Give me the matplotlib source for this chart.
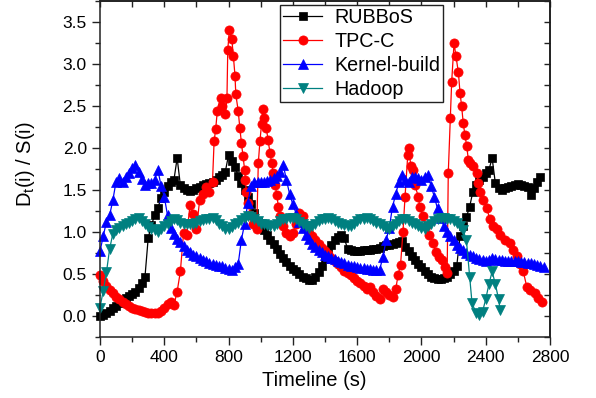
import numpy as np
import matplotlib
matplotlib.use('Agg')
import matplotlib.pyplot as plt
from matplotlib.ticker import MultipleLocator

plt.rcParams['font.family'] = ['Liberation Sans', 'DejaVu Sans']
plt.rcParams['mathtext.default'] = 'regular'

# ---------------- data ----------------
labels = ['RUBBoS', 'TPC-C', 'Kernel-build', 'Hadoop']

# RUBBoS, sampled every 20 s from t = 0
rubbos_v = [
    0.00, 0.01, 0.03, 0.06, 0.09, 0.12, 0.15, 0.18, 0.21, 0.24,
    0.26, 0.29, 0.33, 0.39, 0.47, 0.93, 1.08, 1.20, 1.29, 1.40,
    1.48, 1.55, 1.60, 1.62, 1.88, 1.56, 1.52, 1.50, 1.49, 1.50,
    1.52, 1.54, 1.56, 1.57, 1.58, 1.60, 1.62, 1.65, 1.68, 1.72,
    1.92, 1.85, 1.77, 1.67, 1.58, 1.50, 1.42, 1.33, 1.23, 1.13,
    1.06, 1.02, 0.96, 0.91, 0.86, 0.80, 0.74, 0.69, 0.64, 0.60,
    0.56, 0.53, 0.50, 0.47, 0.45, 0.43, 0.43, 0.46, 0.52, 0.60,
    0.68, 0.76, 0.84, 0.90, 0.94, 0.96, 0.93, 0.80, 0.78, 0.77,
    0.77, 0.77, 0.78, 0.78, 0.79, 0.80, 0.80, 0.81, 0.83, 0.84,
    0.85, 0.86, 0.87, 0.88, 0.89, 0.82, 0.77, 0.72, 0.67, 0.62,
    0.58, 0.54, 0.50, 0.47, 0.45, 0.44, 0.44, 0.45, 0.47, 0.50,
    0.53, 0.60, 0.95, 1.07, 1.18, 1.30, 1.48, 1.56, 1.62, 1.66,
    1.70, 1.74, 1.88, 1.58, 1.52, 1.50, 1.52, 1.54, 1.55, 1.56,
    1.57, 1.56, 1.55, 1.54, 1.44, 1.52, 1.60, 1.65,
]
rubbos_t = np.arange(len(rubbos_v)) * 20

# TPC-C (irregular sampling around the peaks)
tpcc_t = [
    0, 20, 40, 60, 80, 100, 120, 140, 160, 180,
    200, 220, 240, 260, 280, 300, 320, 340, 360, 380,
    400, 420, 440, 460, 480, 500, 520, 540, 560, 580,
    600, 620, 640, 660, 680, 700, 710, 720, 730, 750,
    760, 780, 790, 795, 805, 820, 830, 840, 845, 860,
    870, 880, 890, 900, 905, 910, 920, 935, 955, 975,
    985, 995, 1005, 1012, 1020, 1035, 1045, 1058, 1068, 1078,
    1090, 1100, 1110, 1120, 1140, 1160, 1180, 1200, 1220, 1240,
    1260, 1280, 1300, 1320, 1340, 1360, 1380, 1400, 1420, 1440,
    1460, 1480, 1500, 1520, 1540, 1560, 1580, 1600, 1620, 1640,
    1660, 1680, 1700, 1720, 1740, 1760, 1780, 1800, 1820, 1840,
    1855, 1870, 1885, 1898, 1915, 1920, 1935, 1950, 1960, 1980,
    1990, 2010, 2030, 2050, 2070, 2090, 2110, 2125, 2145, 2160,
    2167, 2180, 2188, 2203, 2215, 2230, 2240, 2250, 2260, 2270,
    2282, 2292, 2302, 2323, 2344, 2354, 2364, 2385, 2406, 2427,
    2447, 2468, 2489, 2520, 2551, 2572, 2593, 2615, 2634, 2655,
    2675, 2706, 2727, 2748,
]
tpcc_v = [
    0.49, 0.42, 0.36, 0.31, 0.27, 0.23, 0.20, 0.17, 0.14, 0.12,
    0.10, 0.08, 0.07, 0.06, 0.05, 0.04, 0.03, 0.03, 0.04, 0.06,
    0.09, 0.14, 0.17, 0.13, 0.29, 0.53, 0.99, 0.97, 1.32, 1.22,
    1.03, 1.38, 1.45, 1.54, 1.48, 1.60, 2.08, 2.23, 2.44, 2.60,
    2.50, 2.40, 2.60, 3.17, 3.40, 3.30, 3.09, 2.86, 2.64, 2.44,
    2.24, 2.06, 1.90, 1.74, 1.62, 1.48, 1.35, 1.20, 1.09, 1.03,
    1.82, 2.08, 2.28, 2.46, 2.36, 2.24, 2.10, 1.94, 1.82, 1.70,
    1.56, 1.44, 1.30, 1.19, 1.07, 0.99, 0.95, 0.99, 1.10, 1.23,
    1.19, 1.07, 0.99, 0.95, 0.91, 0.86, 0.81, 0.77, 0.74, 0.69,
    0.66, 0.62, 0.58, 0.54, 0.51, 0.49, 0.45, 0.42, 0.39, 0.36,
    0.32, 0.34, 0.28, 0.24, 0.20, 0.32, 0.28, 0.25, 0.23, 0.32,
    0.49, 0.61, 1.00, 1.42, 1.92, 2.00, 1.78, 1.74, 1.56, 1.42,
    1.30, 1.19, 1.07, 0.97, 0.87, 0.76, 0.70, 0.67, 0.58, 0.51,
    1.70, 2.36, 2.78, 3.25, 3.09, 2.90, 2.66, 2.50, 2.30, 2.16,
    2.02, 1.86, 1.82, 1.78, 1.70, 1.58, 1.48, 1.38, 1.28, 1.15,
    1.07, 1.03, 0.97, 0.91, 0.87, 0.79, 0.71, 0.62, 0.53, 0.35,
    0.31, 0.27, 0.21, 0.17,
]

# Kernel-build, sampled every 20 s from t = 0
kernel_v = [
    0.77, 0.95, 1.12, 1.20, 1.38, 1.60, 1.64, 1.60, 1.65, 1.70,
    1.76, 1.80, 1.72, 1.63, 1.56, 1.58, 1.58, 1.62, 1.74, 1.55,
    1.42, 1.20, 1.05, 0.98, 0.92, 0.88, 0.83, 0.79, 0.76, 0.73,
    0.71, 0.69, 0.67, 0.65, 0.63, 0.62, 0.61, 0.60, 0.59, 0.57,
    0.56, 0.55, 0.58, 0.62, 0.91, 1.10, 1.35, 1.55, 1.60, 1.60,
    1.60, 1.60, 1.61, 1.62, 1.64, 1.67, 1.72, 1.80, 1.62, 1.45,
    1.33, 1.22, 1.12, 1.05, 0.97, 0.92, 0.86, 0.82, 0.78, 0.76,
    0.73, 0.71, 0.69, 0.68, 0.66, 0.64, 0.63, 0.61, 0.60, 0.59,
    0.58, 0.57, 0.57, 0.56, 0.56, 0.55, 0.55, 0.55, 0.70, 0.90,
    1.05, 1.30, 1.45, 1.60, 1.68, 1.62, 1.60, 1.65, 1.66, 1.64,
    1.62, 1.66, 1.68, 1.55, 1.42, 1.28, 1.17, 1.07, 1.00, 0.95,
    0.90, 0.85, 0.81, 0.78, 0.75, 0.73, 0.71, 0.69, 0.68, 0.67,
    0.66, 0.67, 0.69, 0.68, 0.67, 0.67, 0.66, 0.66, 0.65, 0.65,
    0.65, 0.64, 0.64, 0.63, 0.63, 0.62, 0.61, 0.59, 0.58,
]
kernel_t = np.arange(len(kernel_v)) * 20

# Hadoop
hadoop_t = [
    0, 20, 40, 60, 80, 100, 120, 140, 160, 180,
    200, 220, 240, 260, 280, 300, 320, 340, 360, 380,
    400, 420, 440, 460, 480, 500, 520, 540, 560, 580,
    600, 620, 640, 660, 680, 700, 720, 740, 760, 780,
    800, 820, 840, 860, 880, 900, 920, 940, 960, 980,
    1000, 1020, 1040, 1060, 1080, 1100, 1120, 1140, 1160, 1180,
    1200, 1220, 1240, 1260, 1280, 1300, 1320, 1340, 1360, 1380,
    1400, 1420, 1440, 1460, 1480, 1500, 1520, 1540, 1560, 1580,
    1600, 1620, 1640, 1660, 1680, 1700, 1720, 1740, 1760, 1780,
    1800, 1820, 1840, 1860, 1880, 1900, 1920, 1940, 1960, 1980,
    2000, 2020, 2040, 2060, 2080, 2100, 2120, 2140, 2160, 2180,
    2200, 2220, 2240, 2260, 2280, 2300, 2315, 2340, 2360, 2380,
    2400, 2420, 2440, 2460, 2480, 2490,
]
hadoop_v = [
    0.10, 0.30, 0.52, 0.80, 0.98, 1.02, 1.05, 1.07, 1.09, 1.11,
    1.13, 1.15, 1.17, 1.13, 1.09, 1.06, 1.04, 1.02, 1.00, 1.03,
    1.07, 1.10, 1.13, 1.15, 1.14, 1.11, 1.10, 1.09, 1.09, 1.09,
    1.11, 1.13, 1.14, 1.15, 1.16, 1.17, 1.14, 1.10, 1.07, 1.04,
    1.03, 1.06, 1.09, 1.11, 1.14, 1.17, 1.19, 1.18, 1.16, 1.13,
    1.10, 1.09, 1.08, 1.07, 1.07, 1.10, 1.13, 1.15, 1.16, 1.17,
    1.17, 1.15, 1.12, 1.10, 1.07, 1.05, 1.07, 1.10, 1.13, 1.15,
    1.16, 1.17, 1.16, 1.13, 1.11, 1.09, 1.08, 1.07, 1.07, 1.10,
    1.13, 1.15, 1.16, 1.17, 1.15, 1.13, 1.11, 1.09, 1.07, 1.05,
    1.04, 1.07, 1.10, 1.13, 1.15, 1.15, 1.13, 1.11, 1.09, 1.07,
    1.05, 1.04, 1.07, 1.10, 1.13, 1.15, 1.17, 1.17, 1.16, 1.15,
    1.13, 1.11, 1.07, 1.02, 0.90, 0.47, 0.15, 0.04, 0.01, 0.05,
    0.20, 0.38, 0.53, 0.38, 0.20, 0.07,
]

x_ticks = [0, 400, 800, 1200, 1600, 2000, 2400, 2800]
y_ticks = [0.0, 0.5, 1.0, 1.5, 2.0, 2.5, 3.0, 3.5]

# ---------------- figure ----------------
fig = plt.figure(figsize=(5.96, 3.98), dpi=100)
ax = fig.add_axes([100 / 596, 1 - 337 / 398, 450 / 596, 336 / 398])

series = [
    (rubbos_t, rubbos_v, 'black', 's', 6.2),
    (tpcc_t, tpcc_v, '#ff0000', 'o', 6.6),
    (kernel_t, kernel_v, '#0000ff', '^', 7.0),
    (hadoop_t, hadoop_v, '#008080', 'v', 7.0),
]
for (t, v, c, m, ms), lab in zip(series, labels):
    ax.plot(t, v, color=c, marker=m, markersize=ms, linewidth=0.9,
            markeredgewidth=0.5, label=lab, clip_on=False)

ax.set_xlim(0, 2800)
ax.set_ylim(-0.25, 3.75)
ax.set_xticks(x_ticks)
ax.set_xticklabels([str(v) for v in x_ticks])
ax.set_yticks(y_ticks)
ax.set_yticklabels([f'{v:.1f}' for v in y_ticks])
ax.xaxis.set_minor_locator(MultipleLocator(200))
ax.yaxis.set_minor_locator(MultipleLocator(0.25))

ax.tick_params(which='major', direction='out', length=6, width=1,
               labelsize=12.5, colors='#222222', labelcolor='black')
ax.tick_params(which='minor', direction='out', length=3.5, width=1,
               colors='#222222')
for s in ax.spines.values():
    s.set_linewidth(1.1)
    s.set_color('#222222')

secx = ax.secondary_xaxis('top')
secx.set_xticks(x_ticks)
secx.xaxis.set_minor_locator(MultipleLocator(200))
secx.tick_params(axis='x', which='both', direction='in', length=4, width=1,
                 labeltop=False, labelbottom=False, colors='#222222')
secx.spines['top'].set_linewidth(1.1)
secy = ax.secondary_yaxis('right')
secy.set_yticks(y_ticks)
secy.yaxis.set_minor_locator(MultipleLocator(0.25))
secy.tick_params(axis='y', which='both', direction='in', length=4, width=1,
                 labelright=False, labelleft=False, colors='#222222')
secy.spines['right'].set_linewidth(1.1)

ax.set_xlabel('Timeline (s)', fontsize=14.5)
ax.xaxis.set_label_coords((314 - 100) / 450, (337 - 371) / 336)
ax.set_ylabel('D$_t$(i) / S(i)', fontsize=14.5)
ax.yaxis.set_label_coords((37 - 100) / 450, (337 - 164) / 336)

leg = ax.legend(loc='upper left', bbox_to_anchor=(280 / 596, 1 - 5 / 398),
                bbox_transform=fig.transFigure, fontsize=14.2, frameon=True,
                fancybox=False, edgecolor='#222222', framealpha=1,
                borderaxespad=0, borderpad=0.15, handlelength=2.0,
                handletextpad=0.6, labelspacing=0.26)
leg.get_frame().set_linewidth(1.0)

fig.savefig('out.png', dpi=100)
